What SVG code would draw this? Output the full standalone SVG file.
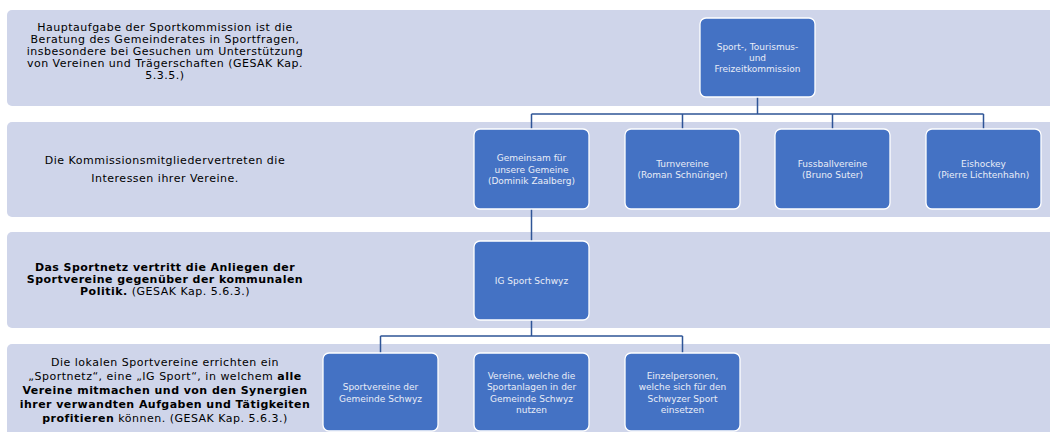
<svg xmlns="http://www.w3.org/2000/svg" width="1050" height="432" viewBox="0 0 1050 432">
<style>
.band{fill:#CFD5EA;}
.box{fill:#4472C4;stroke:#FFFFFF;stroke-width:1.3;}
.t{font-family:"DejaVu Sans",sans-serif;font-size:11px;letter-spacing:0.5px;fill:#000;text-anchor:middle;}
.b{font-weight:bold;letter-spacing:0.45px;}
.n{font-family:"DejaVu Sans",sans-serif;font-size:9px;fill:#E9EDF7;text-anchor:middle;}
.c{fill:none;stroke:#2F5597;stroke-width:1.5;}
</style>
<rect width="1050" height="432" fill="#FFFFFF"/>
<g id="bands">
<rect class="band" x="7" y="10" width="1050" height="96" rx="5"/>
<rect class="band" x="7" y="122" width="1050" height="95" rx="5"/>
<rect class="band" x="7" y="232" width="1050" height="96" rx="5"/>
<rect class="band" x="7" y="344" width="1050" height="100" rx="5"/>
</g>
<g id="band-texts">
<text class="t" x="165" y="31">Hauptaufgabe der Sportkommission ist die</text>
<text class="t" x="165" y="43">Beratung des Gemeinderates in Sportfragen,</text>
<text class="t" x="165" y="55">insbesondere bei Gesuchen um Unterstützung</text>
<text class="t" x="165" y="67">von Vereinen und Trägerschaften (GESAK Kap.</text>
<text class="t" x="165" y="79">5.3.5.)</text>
<text class="t" x="165" y="164">Die Kommissionsmitgliedervertreten die</text>
<text class="t" x="165" y="181.7">Interessen ihrer Vereine.</text>
<text class="t b" x="165" y="270.5">Das Sportnetz vertritt die Anliegen der</text>
<text class="t b" x="165" y="282.5">Sportvereine gegenüber der kommunalen</text>
<text class="t" x="165" y="294.5"><tspan font-weight="bold">Politik.</tspan> (GESAK Kap. 5.6.3.)</text>
<text class="t" x="165" y="366">Die lokalen Sportvereine errichten ein</text>
<text class="t" x="165" y="380">„Sportnetz“, eine „IG Sport“, in welchem <tspan font-weight="bold">alle</tspan></text>
<text class="t b" x="165" y="394">Vereine mitmachen und von den Synergien</text>
<text class="t b" x="165" y="408">ihrer verwandten Aufgaben und Tätigkeiten</text>
<text class="t" x="165" y="421.5"><tspan font-weight="bold">profitieren</tspan> können. (GESAK Kap. 5.6.3.)</text>
</g>
<g id="connectors">
<path class="c" d="M757.5,97 V114 M531.5,114 H983.5 M531.5,114 V129 M682.5,114 V129 M832.5,114 V129 M983.5,114 V129"/>
<path class="c" d="M531.5,209 V241"/>
<path class="c" d="M531.5,320 V336 M380.5,336 H682.5 M380.5,336 V353 M682.5,336 V353"/>
</g>
<g id="n-kommission">
<rect class="box" x="700" y="18" width="115" height="79" rx="6"/>
<text class="n" x="757.5" y="50">Sport-, Tourismus-</text>
<text class="n" x="757.5" y="61">und</text>
<text class="n" x="757.5" y="72">Freizeitkommission</text>
</g>
<g id="n-gemeinsam">
<rect class="box" x="474" y="129" width="115" height="80" rx="6"/>
<text class="n" x="531.5" y="161">Gemeinsam für</text>
<text class="n" x="531.5" y="172.5">unsere Gemeine</text>
<text class="n" x="531.5" y="184">(Dominik Zaalberg)</text>
</g>
<g id="n-turn">
<rect class="box" x="625" y="129" width="115" height="80" rx="6"/>
<text class="n" x="682.5" y="166.5">Turnvereine</text>
<text class="n" x="682.5" y="177.5">(Roman Schnüriger)</text>
</g>
<g id="n-fussball">
<rect class="box" x="775" y="129" width="115" height="80" rx="6"/>
<text class="n" x="832.5" y="166.5">Fussballvereine</text>
<text class="n" x="832.5" y="177.5">(Bruno Suter)</text>
</g>
<g id="n-eishockey">
<rect class="box" x="926" y="129" width="115" height="80" rx="6"/>
<text class="n" x="983.5" y="166.5">Eishockey</text>
<text class="n" x="983.5" y="177.5">(Pierre Lichtenhahn)</text>
</g>
<g id="n-ig">
<rect class="box" x="474" y="241" width="115" height="79" rx="6"/>
<text class="n" x="531.5" y="284">IG Sport Schwyz</text>
</g>
<g id="n-sportvereine">
<rect class="box" x="323" y="353" width="115" height="78" rx="6"/>
<text class="n" x="380.5" y="390">Sportvereine der</text>
<text class="n" x="380.5" y="401.5">Gemeinde Schwyz</text>
</g>
<g id="n-vereine">
<rect class="box" x="474" y="353" width="115" height="78" rx="6"/>
<text class="n" x="531.5" y="378.5">Vereine, welche die</text>
<text class="n" x="531.5" y="390">Sportanlagen in der</text>
<text class="n" x="531.5" y="401.5">Gemeinde Schwyz</text>
<text class="n" x="531.5" y="413">nutzen</text>
</g>
<g id="n-einzel">
<rect class="box" x="625" y="353" width="115" height="78" rx="6"/>
<text class="n" x="682.5" y="378.5">Einzelpersonen,</text>
<text class="n" x="682.5" y="390">welche sich für den</text>
<text class="n" x="682.5" y="401.5">Schwyzer Sport</text>
<text class="n" x="682.5" y="413">einsetzen</text>
</g>
</svg>
